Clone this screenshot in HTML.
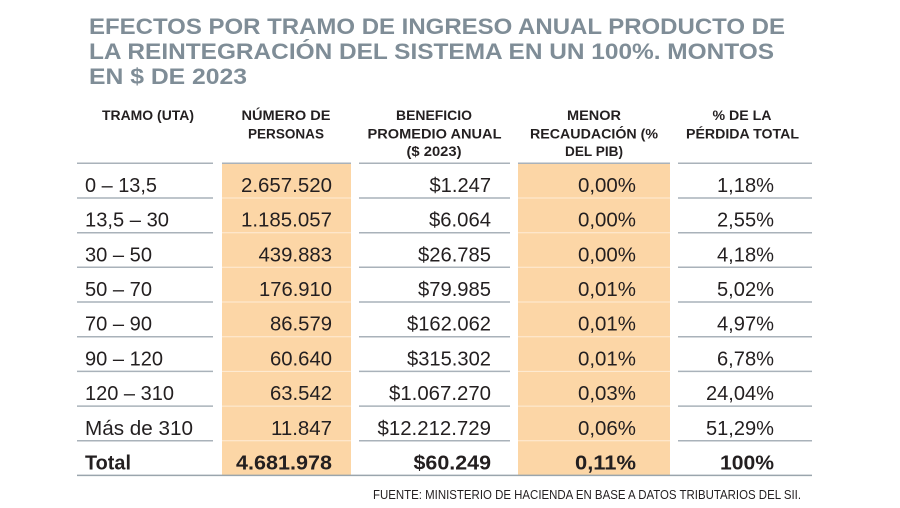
<!DOCTYPE html>
<html>
<head>
<meta charset="utf-8">
<style>
html,body{margin:0;padding:0;background:#fff;}
svg{display:block;}
.t{font-family:"Liberation Sans",sans-serif;font-weight:bold;font-size:22px;fill:#7f8d97;}
.h{font-family:"Liberation Sans",sans-serif;font-weight:bold;font-size:13.5px;fill:#231f20;}
.d{font-family:"Liberation Sans",sans-serif;font-size:20px;fill:#231f20;}
.b{font-family:"Liberation Sans",sans-serif;font-weight:bold;font-size:20px;fill:#231f20;}
.f{font-family:"Liberation Sans",sans-serif;font-size:13px;fill:#231f20;}
</style>
</head>
<body>
<svg width="900" height="508" viewBox="0 0 900 508" xmlns="http://www.w3.org/2000/svg">
<rect x="0" y="0" width="900" height="508" fill="#fff"/>

<!-- Title -->
<text class="t" x="89" y="34" textLength="696" lengthAdjust="spacingAndGlyphs">EFECTOS POR TRAMO DE INGRESO ANUAL PRODUCTO DE</text>
<text class="t" x="89" y="59" textLength="685" lengthAdjust="spacingAndGlyphs">LA REINTEGRACIÓN DEL SISTEMA EN UN 100%. MONTOS</text>
<text class="t" x="89" y="84" textLength="158" lengthAdjust="spacingAndGlyphs">EN $ DE 2023</text>

<!-- Headers -->
<g text-anchor="middle">
<text class="h" x="148" y="120" textLength="92" lengthAdjust="spacingAndGlyphs">TRAMO (UTA)</text>
<text class="h" x="286" y="120" textLength="89" lengthAdjust="spacingAndGlyphs">NÚMERO DE</text>
<text class="h" x="286" y="138.5" textLength="76" lengthAdjust="spacingAndGlyphs">PERSONAS</text>
<text class="h" x="434" y="120" textLength="76" lengthAdjust="spacingAndGlyphs">BENEFICIO</text>
<text class="h" x="434.5" y="138.5" textLength="134" lengthAdjust="spacingAndGlyphs">PROMEDIO ANUAL</text>
<text class="h" x="434" y="156" textLength="55" lengthAdjust="spacingAndGlyphs">($ 2023)</text>
<text class="h" x="594" y="120" textLength="54" lengthAdjust="spacingAndGlyphs">MENOR</text>
<text class="h" x="594" y="138.5" textLength="128" lengthAdjust="spacingAndGlyphs">RECAUDACIÓN (%</text>
<text class="h" x="594" y="156" textLength="58" lengthAdjust="spacingAndGlyphs">DEL PIB)</text>
<text class="h" x="742" y="120" textLength="59" lengthAdjust="spacingAndGlyphs">% DE LA</text>
<text class="h" x="742.5" y="138.5" textLength="113" lengthAdjust="spacingAndGlyphs">PÉRDIDA TOTAL</text>
</g>

<!-- Orange columns -->
<rect x="222" y="163.5" width="129" height="312" fill="#fcd6a6"/>
<rect x="518" y="163.5" width="152" height="312" fill="#fcd6a6"/>

<!-- Lines -->
<g stroke="#a9b2ba" stroke-width="1.5">
  <line x1="77" y1="163.3" x2="213" y2="163.3"/>
  <line x1="222" y1="163.3" x2="351" y2="163.3"/>
  <line x1="359" y1="163.3" x2="510" y2="163.3"/>
  <line x1="518" y1="163.3" x2="670" y2="163.3"/>
  <line x1="678" y1="163.3" x2="812" y2="163.3"/>
</g>
<g stroke="#a9b2ba" stroke-width="1.5">
  <line x1="77" y1="198.0" x2="213" y2="198.0"/><line x1="359" y1="198.0" x2="510" y2="198.0"/><line x1="678" y1="198.0" x2="812" y2="198.0"/>
  <line x1="77" y1="232.7" x2="213" y2="232.7"/><line x1="359" y1="232.7" x2="510" y2="232.7"/><line x1="678" y1="232.7" x2="812" y2="232.7"/>
  <line x1="77" y1="267.3" x2="213" y2="267.3"/><line x1="359" y1="267.3" x2="510" y2="267.3"/><line x1="678" y1="267.3" x2="812" y2="267.3"/>
  <line x1="77" y1="302.0" x2="213" y2="302.0"/><line x1="359" y1="302.0" x2="510" y2="302.0"/><line x1="678" y1="302.0" x2="812" y2="302.0"/>
  <line x1="77" y1="336.7" x2="213" y2="336.7"/><line x1="359" y1="336.7" x2="510" y2="336.7"/><line x1="678" y1="336.7" x2="812" y2="336.7"/>
  <line x1="77" y1="371.4" x2="213" y2="371.4"/><line x1="359" y1="371.4" x2="510" y2="371.4"/><line x1="678" y1="371.4" x2="812" y2="371.4"/>
  <line x1="77" y1="406.1" x2="213" y2="406.1"/><line x1="359" y1="406.1" x2="510" y2="406.1"/><line x1="678" y1="406.1" x2="812" y2="406.1"/>
  <line x1="77" y1="440.7" x2="213" y2="440.7"/><line x1="359" y1="440.7" x2="510" y2="440.7"/><line x1="678" y1="440.7" x2="812" y2="440.7"/>
</g>
<g stroke="#ffffff" stroke-opacity="0.55" stroke-width="1">
  <line x1="222" y1="198.0" x2="351" y2="198.0"/><line x1="518" y1="198.0" x2="670" y2="198.0"/>
  <line x1="222" y1="232.7" x2="351" y2="232.7"/><line x1="518" y1="232.7" x2="670" y2="232.7"/>
  <line x1="222" y1="267.3" x2="351" y2="267.3"/><line x1="518" y1="267.3" x2="670" y2="267.3"/>
  <line x1="222" y1="302.0" x2="351" y2="302.0"/><line x1="518" y1="302.0" x2="670" y2="302.0"/>
  <line x1="222" y1="336.7" x2="351" y2="336.7"/><line x1="518" y1="336.7" x2="670" y2="336.7"/>
  <line x1="222" y1="371.4" x2="351" y2="371.4"/><line x1="518" y1="371.4" x2="670" y2="371.4"/>
  <line x1="222" y1="406.1" x2="351" y2="406.1"/><line x1="518" y1="406.1" x2="670" y2="406.1"/>
  <line x1="222" y1="440.7" x2="351" y2="440.7"/><line x1="518" y1="440.7" x2="670" y2="440.7"/>
</g>
<line x1="77" y1="475.4" x2="812" y2="475.4" stroke="#9aa5ad" stroke-width="1.5"/>

<!-- Column 1 -->
<text class="d" x="85" y="192" textLength="72" lengthAdjust="spacingAndGlyphs">0 – 13,5</text>
<text class="d" x="85" y="226.7" textLength="84" lengthAdjust="spacingAndGlyphs">13,5 – 30</text>
<text class="d" x="85" y="261.4" textLength="67" lengthAdjust="spacingAndGlyphs">30 – 50</text>
<text class="d" x="85" y="296" textLength="67" lengthAdjust="spacingAndGlyphs">50 – 70</text>
<text class="d" x="85" y="330.7" textLength="67" lengthAdjust="spacingAndGlyphs">70 – 90</text>
<text class="d" x="85" y="365.4" textLength="78" lengthAdjust="spacingAndGlyphs">90 – 120</text>
<text class="d" x="85" y="400.1" textLength="89" lengthAdjust="spacingAndGlyphs">120 – 310</text>
<text class="d" x="85" y="434.8" textLength="108" lengthAdjust="spacingAndGlyphs">Más de 310</text>
<text class="b" x="85" y="469.4" textLength="46" lengthAdjust="spacingAndGlyphs">Total</text>

<!-- Column 2 -->
<g text-anchor="end">
<text class="d" x="332" y="192" textLength="91" lengthAdjust="spacingAndGlyphs">2.657.520</text>
<text class="d" x="332" y="226.7" textLength="91" lengthAdjust="spacingAndGlyphs">1.185.057</text>
<text class="d" x="332" y="261.4" textLength="73.5" lengthAdjust="spacingAndGlyphs">439.883</text>
<text class="d" x="332" y="296" textLength="73" lengthAdjust="spacingAndGlyphs">176.910</text>
<text class="d" x="332" y="330.7" textLength="62" lengthAdjust="spacingAndGlyphs">86.579</text>
<text class="d" x="332" y="365.4" textLength="62" lengthAdjust="spacingAndGlyphs">60.640</text>
<text class="d" x="332" y="400.1" textLength="62" lengthAdjust="spacingAndGlyphs">63.542</text>
<text class="d" x="332" y="434.8" textLength="61" lengthAdjust="spacingAndGlyphs">11.847</text>
<text class="b" x="332" y="469.4" textLength="96" lengthAdjust="spacingAndGlyphs">4.681.978</text>

<!-- Column 3 -->
<text class="d" x="491" y="192" textLength="61.5" lengthAdjust="spacingAndGlyphs">$1.247</text>
<text class="d" x="491" y="226.7" textLength="62" lengthAdjust="spacingAndGlyphs">$6.064</text>
<text class="d" x="491" y="261.4" textLength="73" lengthAdjust="spacingAndGlyphs">$26.785</text>
<text class="d" x="491" y="296" textLength="73" lengthAdjust="spacingAndGlyphs">$79.985</text>
<text class="d" x="491" y="330.7" textLength="84" lengthAdjust="spacingAndGlyphs">$162.062</text>
<text class="d" x="491" y="365.4" textLength="84" lengthAdjust="spacingAndGlyphs">$315.302</text>
<text class="d" x="491" y="400.1" textLength="102" lengthAdjust="spacingAndGlyphs">$1.067.270</text>
<text class="d" x="491" y="434.8" textLength="113.5" lengthAdjust="spacingAndGlyphs">$12.212.729</text>
<text class="b" x="491" y="469.4" textLength="77.5" lengthAdjust="spacingAndGlyphs">$60.249</text>

<!-- Column 4 -->
<text class="d" x="636" y="192" textLength="58" lengthAdjust="spacingAndGlyphs">0,00%</text>
<text class="d" x="636" y="226.7" textLength="58" lengthAdjust="spacingAndGlyphs">0,00%</text>
<text class="d" x="636" y="261.4" textLength="58" lengthAdjust="spacingAndGlyphs">0,00%</text>
<text class="d" x="636" y="296" textLength="58" lengthAdjust="spacingAndGlyphs">0,01%</text>
<text class="d" x="636" y="330.7" textLength="58" lengthAdjust="spacingAndGlyphs">0,01%</text>
<text class="d" x="636" y="365.4" textLength="58" lengthAdjust="spacingAndGlyphs">0,01%</text>
<text class="d" x="636" y="400.1" textLength="58" lengthAdjust="spacingAndGlyphs">0,03%</text>
<text class="d" x="636" y="434.8" textLength="58" lengthAdjust="spacingAndGlyphs">0,06%</text>
<text class="b" x="636" y="469.4" textLength="61" lengthAdjust="spacingAndGlyphs">0,11%</text>

<!-- Column 5 -->
<text class="d" x="774" y="192" textLength="57" lengthAdjust="spacingAndGlyphs">1,18%</text>
<text class="d" x="774" y="226.7" textLength="57" lengthAdjust="spacingAndGlyphs">2,55%</text>
<text class="d" x="774" y="261.4" textLength="57" lengthAdjust="spacingAndGlyphs">4,18%</text>
<text class="d" x="774" y="296" textLength="57" lengthAdjust="spacingAndGlyphs">5,02%</text>
<text class="d" x="774" y="330.7" textLength="57" lengthAdjust="spacingAndGlyphs">4,97%</text>
<text class="d" x="774" y="365.4" textLength="57" lengthAdjust="spacingAndGlyphs">6,78%</text>
<text class="d" x="774" y="400.1" textLength="68" lengthAdjust="spacingAndGlyphs">24,04%</text>
<text class="d" x="774" y="434.8" textLength="68" lengthAdjust="spacingAndGlyphs">51,29%</text>
<text class="b" x="774" y="469.4" textLength="54" lengthAdjust="spacingAndGlyphs">100%</text>
</g>

<!-- Footnote -->
<text class="f" x="373" y="499" textLength="428" lengthAdjust="spacingAndGlyphs">FUENTE: MINISTERIO DE HACIENDA EN BASE A DATOS TRIBUTARIOS DEL SII.</text>
</svg>
</body>
</html>
